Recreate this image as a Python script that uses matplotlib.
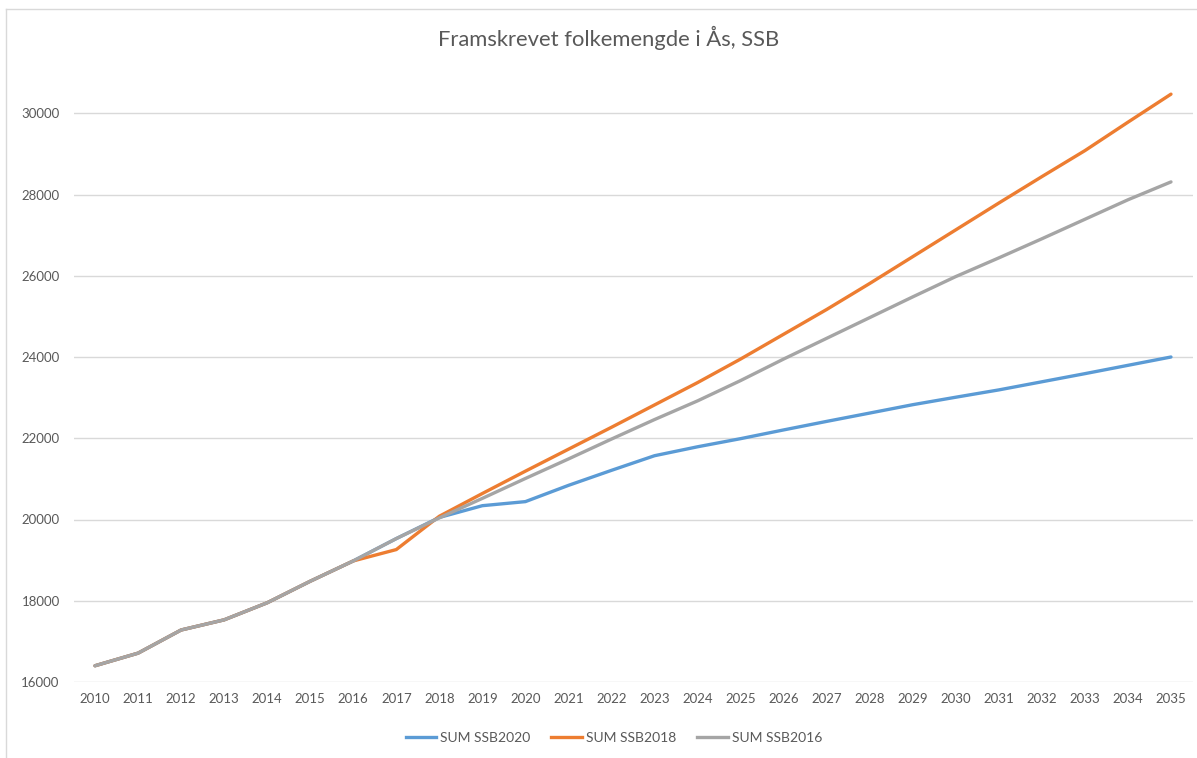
import matplotlib
matplotlib.use("Agg")
import matplotlib.pyplot as plt
from matplotlib.lines import Line2D

years = [str(y) for y in range(2010, 2036)]

ssb2020 = [16400, 16710, 17280, 17530, 17950, 18480, 18980, 19530, 20050, 20340,
           20440, 20840, 21210, 21570, 21790, 21990, 22205, 22415, 22620, 22826,
           23010, 23190, 23390, 23590, 23795, 24000]
ssb2018 = [16400, 16710, 17280, 17530, 17950, 18480, 18980, 19260, 20080, 20640,
           21190, 21730, 22270, 22820, 23370, 23950, 24560, 25170, 25810, 26470,
           27130, 27790, 28440, 29080, 29780, 30470]
ssb2016 = [16400, 16710, 17280, 17530, 17950, 18480, 18980, 19530, 20040, 20520,
           21010, 21490, 21980, 22460, 22920, 23420, 23950, 24460, 24970, 25480,
           25980, 26440, 26910, 27390, 27870, 28310]

series_names = ["SUM SSB2020", "SUM SSB2018", "SUM SSB2016"]
colors = ["#5B9BD5", "#ED7D31", "#A5A5A5"]
yticks = [16000, 18000, 20000, 22000, 24000, 26000, 28000, 30000]

plt.rcParams['font.family'] = ['Lato', 'DejaVu Sans']
txt = "#595959"

W, H = 1197, 758
fig = plt.figure(figsize=(W / 100, H / 100), dpi=100)
ax = fig.add_axes([73.5 / W, 76 / H, 1119 / W, 650 / H])

x = list(range(len(years)))
for vals, c, name in zip([ssb2020, ssb2018, ssb2016], colors, series_names):
    ax.plot(x, vals, color=c, lw=2.4, label=name, solid_capstyle='round',
            solid_joinstyle='round')

ax.set_xlim(-0.5, len(years) - 0.5)
ax.set_ylim(16000, 32000)
ax.set_yticks(yticks)
ax.set_yticklabels([str(v) for v in yticks])
ax.set_xticks(x)
ax.set_xticklabels(years)
ax.tick_params(axis='both', length=0, colors=txt, labelsize=9.5)
ax.tick_params(axis='y', pad=10)
ax.tick_params(axis='x', pad=8)
ax.grid(axis='y', color='#d9d9d9', lw=1)
ax.set_axisbelow(True)
for s in ax.spines.values():
    s.set_visible(False)

fig.text(609 / W, 1 - 38 / H, "Framskrevet folkemengde i Ås, SSB",
         ha='center', va='center', fontsize=15.8, color=txt)

handles = [Line2D([0], [0], color=c, lw=2.4) for c in colors]
fig.legend(handles, series_names, loc='center', bbox_to_anchor=(614 / W, 20 / H),
           ncol=3, frameon=False, fontsize=10, labelcolor=txt,
           handlelength=2.2, handletextpad=0.3, columnspacing=1.5)

# frame lines (top and left)
fig.add_artist(Line2D([6 / W, 1], [1 - 9 / H, 1 - 9 / H], transform=fig.transFigure,
                      color='#d9d9d9', lw=1))
fig.add_artist(Line2D([6 / W, 6 / W], [0, 1 - 9 / H], transform=fig.transFigure,
                      color='#d9d9d9', lw=1))

fig.savefig("out.png", dpi=100, facecolor='white')
